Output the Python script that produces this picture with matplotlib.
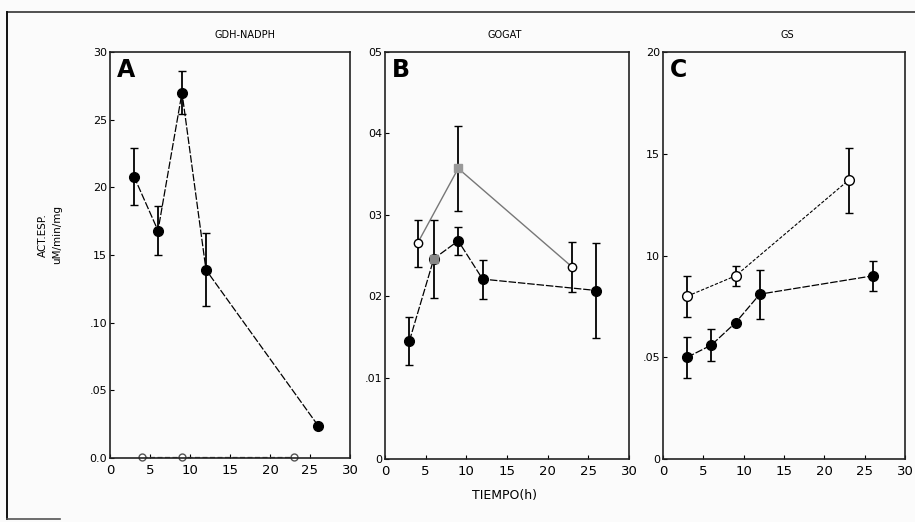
import matplotlib
matplotlib.use("Agg")
import matplotlib.pyplot as plt
from matplotlib.lines import Line2D

plt.rcParams['font.family'] = ['DejaVu Sans']

# ---------------- data ----------------
# Panel A  GDH-NADPH
a_fill_x = [3, 6, 9, 12, 26]
a_fill_y = [0.208, 0.168, 0.270, 0.139, 0.024]
a_fill_e = [0.021, 0.018, 0.016, 0.027, 0.0]
a_open_x = [4, 9, 23]
a_open_y = [0.001, 0.001, 0.001]

# Panel B  GOGAT
b_open_x = [4, 9, 23]
b_open_y = [0.0265, 0.0357, 0.0236]
b_open_e = [0.0029, 0.0052, 0.0031]
b_fill_x = [3, 6, 9, 12, 26]
b_fill_y = [0.0145, 0.0246, 0.0268, 0.0221, 0.0207]
b_fill_e = [0.0030, 0.0048, 0.0017, 0.0024, 0.0058]

# Panel C  GS
c_open_x = [3, 9, 23]
c_open_y = [0.080, 0.090, 0.137]
c_open_e = [0.010, 0.005, 0.016]
c_fill_x = [3, 6, 9, 12, 26]
c_fill_y = [0.050, 0.056, 0.067, 0.081, 0.090]
c_fill_e = [0.010, 0.0077, 0.0, 0.012, 0.0075]

xticks = [0, 5, 10, 15, 20, 25, 30]
a_yticks = [0.0, 0.05, 0.10, 0.15, 0.20, 0.25, 0.30]
a_ylabels = ["0.0", ".05", ".10", "15", "20", "25", "30"]
b_yticks = [0.0, 0.01, 0.02, 0.03, 0.04, 0.05]
b_ylabels = ["0", ".01", "02", "03", "04", "05"]
c_yticks = [0.0, 0.05, 0.10, 0.15, 0.20]
c_ylabels = ["0", ".05", "10", "15", "20"]
titles = ["GDH-NADPH", "GOGAT", "GS"]
letters = ["A", "B", "C"]

# ---------------- figure ----------------
W, H = 915, 522
fig = plt.figure(figsize=(W / 100, H / 100), dpi=100)
fig.patch.set_facecolor('#fbfbfb')

def box(l, r, t, b):
    return [l / W, (H - b) / H, (r - l) / W, (b - t) / H]

axA = fig.add_axes(box(110, 350, 52, 458))
axB = fig.add_axes(box(385, 629, 52, 459))
axC = fig.add_axes(box(663, 905, 52, 459))

def style(ax, yt, yl, ymax, title, letter, tx):
    ax.set_facecolor('#fbfbfb')
    ax.set_xlim(0, 30)
    ax.set_ylim(0, ymax)
    ax.set_xticks(xticks)
    ax.set_xticklabels([str(v) for v in xticks], fontsize=9.5)
    ax.set_yticks(yt)
    ax.set_yticklabels(yl, fontsize=8)
    ax.tick_params(direction='in', length=3, width=0.8, pad=2)
    ax.tick_params(axis='x', pad=4)
    for s in ax.spines.values():
        s.set_linewidth(1.2)
        s.set_color('#222222')
    ax.text(0.03, 0.985, letter, transform=ax.transAxes, fontsize=17,
            fontweight='bold', va='top', ha='left')
    fig.text(tx / W, 1 - 35 / H, title, fontsize=7, ha='center', va='center')

style(axA, a_yticks, a_ylabels, 0.30, titles[0], letters[0], 245)
style(axB, b_yticks, b_ylabels, 0.05, titles[1], letters[1], 505)
style(axC, c_yticks, c_ylabels, 0.20, titles[2], letters[2], 787)

ms = 7
ekw = dict(ecolor='black', elinewidth=1.3, capsize=3, capthick=1.0)

# Panel A
axA.plot(a_fill_x, a_fill_y, color='black', lw=0.9, ls=(0, (6, 1.5)))
axA.errorbar(a_fill_x, a_fill_y, yerr=a_fill_e, fmt='o', color='black',
             ms=ms, **ekw)
axA.plot(a_open_x, a_open_y, color='#444444', lw=0.9, ls=(0, (4, 2)),
         marker='o', mfc='white', mec='#555555', ms=5, clip_on=False)

# Panel B
axB.plot(b_open_x, b_open_y, color='#777777', lw=1.0)
axB.errorbar(b_open_x, b_open_y, yerr=b_open_e, fmt='none', **ekw)
axB.plot(b_open_x[0], b_open_y[0], 'o', mfc='white', mec='black', ms=ms - 1)
axB.plot(b_open_x[2], b_open_y[2], 'o', mfc='white', mec='black', ms=ms - 1)
axB.plot(b_open_x[1], b_open_y[1], 's', color='#999999', ms=ms - 1)
axB.plot(b_fill_x, b_fill_y, color='black', lw=0.9, ls=(0, (6, 1.5)))
axB.errorbar(b_fill_x, b_fill_y, yerr=b_fill_e, fmt='none', **ekw)
axB.plot(b_fill_x, b_fill_y, 'o', color='black', ms=ms)
axB.plot(b_fill_x[1], b_fill_y[1], 's', color='#888888', ms=ms - 1)

# Panel C
axC.plot(c_open_x, c_open_y, color='black', lw=0.8, ls=(0, (3, 1.5)))
axC.errorbar(c_open_x, c_open_y, yerr=c_open_e, fmt='o', mfc='white',
             mec='black', ms=ms, **ekw)
axC.plot(c_fill_x, c_fill_y, color='black', lw=0.9, ls=(0, (6, 1.5)))
axC.errorbar(c_fill_x, c_fill_y, yerr=c_fill_e, fmt='o', color='black',
             ms=ms, **ekw)

# axis labels
fig.text(50 / W, 1 - 235 / H, "ACT.ESP.\nuM/min/mg", rotation=90,
         fontsize=7.5, ha='center', va='center', linespacing=1.5)
fig.text(505 / W, 1 - 495 / H, "TIEMPO(h)", fontsize=9, ha='center',
         va='center')

# outer frame (scanned page border)
fig.add_artist(Line2D([8 / W, 1.0], [1 - 12 / H, 1 - 12 / H],
                      transform=fig.transFigure, color='#333333', lw=1.2))
fig.add_artist(Line2D([7 / W, 7 / W], [1 - 12 / H, 1 - 519 / H],
                      transform=fig.transFigure, color='#111111', lw=1.4))
fig.add_artist(Line2D([7 / W, 60 / W], [1 - 519 / H, 1 - 519 / H],
                      transform=fig.transFigure, color='#555555', lw=1.2))

fig.savefig("out.png", dpi=100, facecolor=fig.get_facecolor())
